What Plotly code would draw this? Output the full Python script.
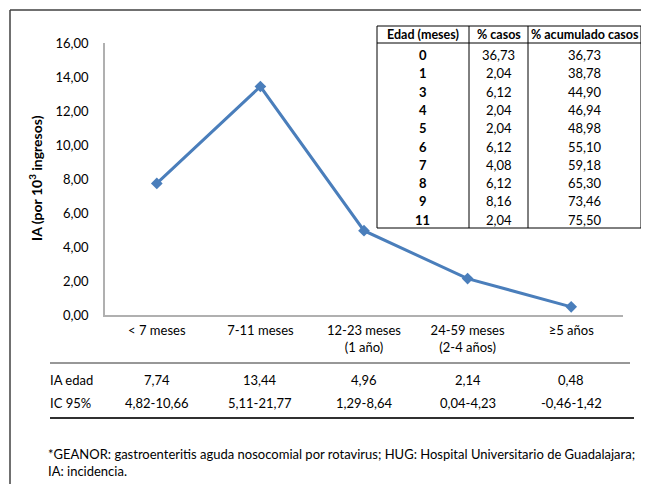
import plotly.graph_objects as go

# ---- data ----
categories = ["< 7 meses", "7-11 meses", "12-23 meses<br>(1 año)", "24-59 meses<br>(2-4 años)", "≥5 años"]
ia_edad = [7.74, 13.44, 4.96, 2.14, 0.48]
ia_edad_labels = ["7,74", "13,44", "4,96", "2,14", "0,48"]
ic95_labels = ["4,82-10,66", "5,11-21,77", "1,29-8,64", "0,04-4,23", "-0,46-1,42"]
y_ticks = [0, 2, 4, 6, 8, 10, 12, 14, 16]
y_tick_labels = ["0,00", "2,00", "4,00", "6,00", "8,00", "10,00", "12,00", "14,00", "16,00"]

tbl_header = ["Edad (meses)", "% casos", "% acumulado casos"]
tbl_edad = ["0", "1", "3", "4", "5", "6", "7", "8", "9", "11"]
tbl_pct = ["36,73", "2,04", "6,12", "2,04", "2,04", "6,12", "4,08", "6,12", "8,16", "2,04"]
tbl_acum = ["36,73", "38,78", "44,90", "46,94", "48,98", "55,10", "59,18", "65,30", "73,46", "75,50"]
footnote = ("*GEANOR: gastroenteritis aguda nosocomial por rotavirus; HUG: Hospital Universitario de Guadalajara;"
            "<br>IA: incidencia.")

W, H = 649, 484
OFF = 8  # page body margin
FONT = "Lato"
FS = 13
LINE = "rgb(74,126,187)"


def px(x):
    return (x - OFF) / W


def py(y):
    return 1 - (y - OFF) / H


fig = go.Figure()
fig.add_trace(go.Scatter(
    x=list(range(len(categories))), y=ia_edad, mode="lines+markers",
    line=dict(color=LINE, width=3),
    marker=dict(symbol="diamond", size=9, color=LINE),
    showlegend=False, hoverinfo="skip"))

shapes = []
ann = []

# outer frame (top and left)
shapes.append(dict(type="line", xref="paper", yref="paper", x0=px(10), x1=px(670), y0=py(10), y1=py(10),
                   line=dict(color="#404040", width=1.5)))
shapes.append(dict(type="line", xref="paper", yref="paper", x0=px(10), x1=px(10), y0=py(10), y1=py(500),
                   line=dict(color="#404040", width=1.5)))

# y-axis title
ann.append(dict(xref="paper", yref="paper", x=px(35), y=py(178), text="<b>IA (por 10<sup>3</sup> ingresos)</b>",
                textangle=-90, showarrow=False, font=dict(family=FONT, size=14, color="black"),
                xanchor="center", yanchor="middle"))

# lower data table lines
shapes.append(dict(type="line", xref="paper", yref="paper", x0=px(50), x1=px(630), y0=py(363), y1=py(363),
                   line=dict(color="#303030", width=1)))
shapes.append(dict(type="line", xref="paper", yref="paper", x0=px(50), x1=px(634), y0=py(418), y1=py(418),
                   line=dict(color="#303030", width=2)))
ann.append(dict(xref="paper", yref="paper", x=px(48), y=py(380), text="IA edad", showarrow=False,
                xanchor="left", yanchor="middle", font=dict(family=FONT, size=FS, color="black")))
ann.append(dict(xref="paper", yref="paper", x=px(48), y=py(403), text="IC 95%", showarrow=False,
                xanchor="left", yanchor="middle", font=dict(family=FONT, size=FS, color="black")))
for i in range(len(categories)):
    ann.append(dict(xref="x", yref="paper", x=i, y=py(380), text=ia_edad_labels[i], showarrow=False,
                    xanchor="center", yanchor="middle", font=dict(family=FONT, size=FS, color="black")))
    ann.append(dict(xref="x", yref="paper", x=i, y=py(403), text=ic95_labels[i], showarrow=False,
                    xanchor="center", yanchor="middle", font=dict(family=FONT, size=FS, color="black")))

# footnote
ann.append(dict(xref="paper", yref="paper", x=px(46), y=py(444), text=footnote, showarrow=False,
                xanchor="left", yanchor="top", align="left",
                font=dict(family=FONT, size=FS, color="black")))

# inset table
tx0, tx1, tx2, tx3 = 377, 469, 528, 641
ty0, tyh, ty1 = 26, 43, 228
shapes.append(dict(type="rect", xref="paper", yref="paper", x0=px(tx0), x1=px(tx3), y0=py(ty0), y1=py(ty1),
                   line=dict(color="black", width=1), fillcolor="white", layer="above"))
for xx in (tx1, tx2):
    shapes.append(dict(type="line", xref="paper", yref="paper", x0=px(xx), x1=px(xx), y0=py(ty0), y1=py(ty1),
                       line=dict(color="black", width=1)))
shapes.append(dict(type="line", xref="paper", yref="paper", x0=px(tx0), x1=px(tx3), y0=py(tyh), y1=py(tyh),
                   line=dict(color="black", width=1)))
col_cx = [(tx0 + tx1) / 2, (tx1 + tx2) / 2, (tx2 + tx3) / 2]
for j, h in enumerate(tbl_header):
    ann.append(dict(xref="paper", yref="paper", x=px(col_cx[j]), y=py(35), text="<b>" + h + "</b>",
                    showarrow=False, xanchor="center", yanchor="middle",
                    font=dict(family=FONT, size=12.5, color="black")))
for i in range(len(tbl_edad)):
    yy = 55 + i * 18.3
    ann.append(dict(xref="paper", yref="paper", x=px(col_cx[0]), y=py(yy), text="<b>" + tbl_edad[i] + "</b>",
                    showarrow=False, xanchor="center", yanchor="middle",
                    font=dict(family=FONT, size=FS, color="black")))
    ann.append(dict(xref="paper", yref="paper", x=px(col_cx[1]), y=py(yy), text=tbl_pct[i],
                    showarrow=False, xanchor="center", yanchor="middle",
                    font=dict(family=FONT, size=FS, color="black")))
    ann.append(dict(xref="paper", yref="paper", x=px(col_cx[2]), y=py(yy), text=tbl_acum[i],
                    showarrow=False, xanchor="center", yanchor="middle",
                    font=dict(family=FONT, size=FS, color="black")))

fig.update_layout(
    width=W, height=H, autosize=False,
    margin=dict(l=0, r=0, t=0, b=0),
    paper_bgcolor="white", plot_bgcolor="white",
    font=dict(family=FONT, size=FS, color="black"),
    xaxis=dict(domain=[px(105), px(623)], range=[-0.5, 4.5],
               tickmode="array", tickvals=list(range(len(categories))), ticktext=categories,
               showline=True, linecolor="#b0b0b0", linewidth=1.5, showgrid=False, zeroline=False,
               ticks="", ticklabelstandoff=3, automargin=False,
               tickfont=dict(family=FONT, size=FS, color="black")),
    yaxis=dict(domain=[py(315), py(43)], range=[0, 16],
               tickmode="array", tickvals=y_ticks, ticktext=y_tick_labels,
               showline=True, linecolor="#b0b0b0", linewidth=1.5, showgrid=False, zeroline=False,
               ticks="", ticklabelstandoff=12, automargin=False,
               tickfont=dict(family=FONT, size=FS, color="black")),
    shapes=shapes, annotations=ann,
)

fig.write_html("out.html")
